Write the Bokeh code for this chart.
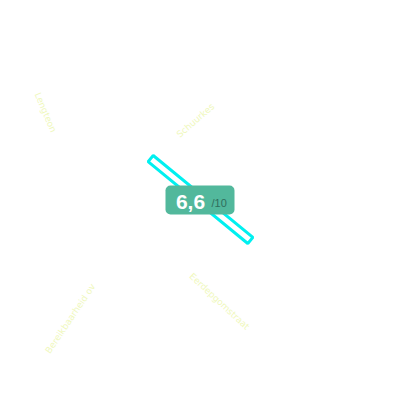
from bokeh.core.properties import value
from bokeh.embed import file_html
from bokeh.models import BoxAnnotation, Label, Range1d
from bokeh.plotting import figure
from bokeh.resources import INLINE

# score shown in the badge
SCORE = 6.6
SCORE_MAX = 10

# the four criteria around the needle, as far as they can be read
criteria = ["Lengteon", "Schuurkes", "Bereikbaarheid ov", "Eerdepgomstraat"]

# layout (pixels from the centre, text angle in degrees)
label_x = [-155, -5, -130, 19]
label_y = [88, 80, -118, -101]
label_angle = [-67, 41, 56, -43]

NEEDLE_ANGLE = -39.4
NEEDLE_LENGTH = 129

BADGE_GREEN = "#52b89c"
LABEL_COLOR = "#eff8bc"

p = figure(width=400, height=400, output_backend="svg", toolbar_location=None,
           x_range=Range1d(-200, 200), y_range=Range1d(-200, 200),
           min_border=0)
p.axis.visible = False
p.grid.visible = False
p.outline_line_color = None
p.background_fill_color = "white"

p.text(x=label_x, y=label_y, text=criteria, angle=label_angle,
       angle_units="deg", text_align="center", text_baseline="middle",
       text_font=value("DejaVu Sans"), text_font_size="9px",
       text_color=LABEL_COLOR)

# needle: a thin outlined bar through the centre
p.rect(x=[0], y=[1], width=[NEEDLE_LENGTH], height=[8], angle=[NEEDLE_ANGLE],
       angle_units="deg", fill_color="white", line_color="#00f0f0",
       line_width=3)

badge = BoxAnnotation(left=-35, right=34, bottom=-14, top=15,
                      fill_color=BADGE_GREEN, fill_alpha=1, line_color=None,
                      border_radius=5)
p.add_layout(badge)

score_text = f"{SCORE:.1f}".replace(".", ",")
p.add_layout(Label(x=-10, y=-1, text=score_text, text_align="center",
                   text_baseline="middle", text_font="Liberation Sans",
                   text_font_style="bold", text_font_size="21px",
                   text_color="white"))
p.add_layout(Label(x=11, y=-2, text=f"/{SCORE_MAX}", text_align="left",
                   text_baseline="middle", text_font="Liberation Sans",
                   text_font_size="11px", text_color="#2f6e5c"))

open("out.html", "w").write(file_html(p, INLINE))
